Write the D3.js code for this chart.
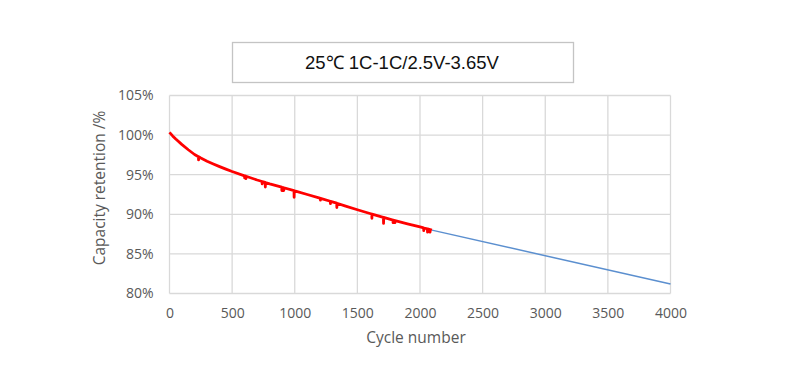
<!DOCTYPE html>
<html>
<head>
<meta charset="utf-8">
<script src="https://cdn.jsdelivr.net/npm/d3@7"></script>
<style>
    body { margin: 0; background: #fff; }
</style>
</head>
<body>
<div id="chart"></div>
<script>
// chart data
var titleText = "25\u2103 1C-1C/2.5V-3.65V";
var xTicks = [0, 500, 1000, 1500, 2000, 2500, 3000, 3500, 4000];
var yTicks = [80, 85, 90, 95, 100, 105];

// measured cycles (red), the dips are the short spikes on the curve
var measuredCycles = [0, 25, 50, 100, 150, 200, 231, 232, 233, 250, 300, 350, 400, 450, 500,
    599, 600, 601, 609, 610, 611, 700, 739, 740, 741, 764, 765, 766, 800, 896, 897, 898, 911, 912, 913,
    994, 995, 996, 1000, 1100, 1200, 1204, 1205, 1206, 1284, 1285, 1286, 1300, 1335, 1336, 1337, 1400, 1500,
    1600, 1615, 1616, 1617, 1700, 1708, 1709, 1710, 1784, 1785, 1786, 1799, 1800, 1801, 1900, 2000,
    2029, 2030, 2031, 2059, 2060, 2061, 2079, 2080, 2081, 2095];
var measuredRetention = [100.35, 99.9, 99.5, 98.8, 98.15, 97.55, 97.27, 96.87, 97.26, 97.1, 96.7, 96.35, 96.02, 95.7, 95.4,
    94.86, 94.6, 94.85, 94.81, 94.5, 94.8, 94.33, 94.14, 93.85, 94.13, 94.02, 93.45, 94.02, 93.85, 93.42, 93.0, 93.41, 93.36, 93.0, 93.35,
    92.98, 92.15, 92.97, 92.95, 92.5, 92.05, 92.03, 91.8, 92.02, 91.65, 91.35, 91.64, 91.57, 91.4, 90.85, 91.39, 91.07, 90.57,
    90.1, 90.03, 89.5, 90.02, 89.65, 89.61, 88.85, 89.6, 89.27, 88.95, 89.26, 89.2, 88.95, 89.2, 88.8, 88.4,
    88.28, 87.93, 88.27, 88.15, 87.75, 88.15, 88.06, 87.75, 88.06, 88.0];

// projected trend (blue)
var trendCycles = [2095, 4000];
var trendRetention = [88.0, 81.2];

var width = 800, height = 369;
var margin = { top: 95.5, right: 129.5, bottom: 75.5, left: 169.5 };

var svg = d3.select("#chart")
    .append("svg")
    .attr("width", width)
    .attr("height", height);

var x = d3.scaleLinear()
    .domain([0, 4000])
    .range([margin.left, width - margin.right]);
var y = d3.scaleLinear()
    .domain([80, 105])
    .range([height - margin.bottom, margin.top]);

// title box
svg.append("rect")
    .attr("x", 232.5)
    .attr("y", 42.5)
    .attr("width", 341)
    .attr("height", 40)
    .attr("fill", "#fff")
    .attr("stroke", "#c4c4c4")
    .attr("stroke-width", 1.3);
svg.append("text")
    .attr("x", 402)
    .attr("y", 69)
    .attr("text-anchor", "middle")
    .attr("font-family", "Liberation Sans, Arial, sans-serif")
    .attr("font-size", 18.5)
    .attr("fill", "#111")
    .text(titleText);

// grid lines
var grid = svg.append("g").attr("stroke", "#d9d9d9").attr("stroke-width", 1.3);
grid.selectAll("line.v")
    .data(xTicks)
    .enter().append("line")
    .attr("class", "v")
    .attr("x1", function (d) { return x(d); })
    .attr("x2", function (d) { return x(d); })
    .attr("y1", y(80))
    .attr("y2", y(105));
grid.selectAll("line.h")
    .data(yTicks)
    .enter().append("line")
    .attr("class", "h")
    .attr("x1", x(0))
    .attr("x2", x(4000))
    .attr("y1", function (d) { return y(d); })
    .attr("y2", function (d) { return y(d); });

// axes (labels only)
var xAxis = svg.append("g")
    .attr("transform", "translate(0," + (height - margin.bottom) + ")")
    .call(d3.axisBottom(x).tickValues(xTicks).tickSize(0).tickPadding(15)
        .tickFormat(d3.format("d")));
var yAxis = svg.append("g")
    .attr("transform", "translate(" + margin.left + ",0)")
    .call(d3.axisLeft(y).tickValues(yTicks).tickSize(0).tickPadding(16)
        .tickFormat(function (d) { return d + "%"; }));
[xAxis, yAxis].forEach(function (a) {
    a.select(".domain").remove();
    a.selectAll("text")
        .attr("font-family", "Open Sans, sans-serif")
        .attr("font-size", 14)
        .attr("fill", "#595959");
});

// axis titles
svg.append("text")
    .attr("x", 416)
    .attr("y", 343)
    .attr("text-anchor", "middle")
    .attr("font-family", "Open Sans, sans-serif")
    .attr("font-size", 15.5)
    .attr("fill", "#595959")
    .text("Cycle number");
svg.append("text")
    .attr("transform", "translate(105,188) rotate(-90)")
    .attr("text-anchor", "middle")
    .attr("font-family", "Open Sans, sans-serif")
    .attr("font-size", 15.5)
    .attr("fill", "#595959")
    .text("Capacity retention /%");

var line = d3.line()
    .x(function (d) { return x(d[0]); })
    .y(function (d) { return y(d[1]); });

// trend line
svg.append("path")
    .attr("d", line(d3.zip(trendCycles, trendRetention)))
    .attr("fill", "none")
    .attr("stroke", "#5b8fcf")
    .attr("stroke-width", 1.5);

// measured curve
svg.append("path")
    .attr("d", line(d3.zip(measuredCycles, measuredRetention)))
    .attr("fill", "none")
    .attr("stroke", "#ff0000")
    .attr("stroke-width", 2.8)
    .attr("stroke-linejoin", "round");
</script>
</body>
</html>
